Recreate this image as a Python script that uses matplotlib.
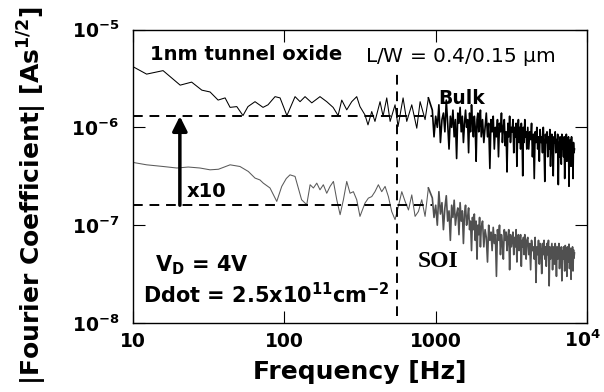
import numpy as np
import matplotlib.pyplot as plt
import matplotlib.transforms as mtransforms

plt.rcParams['font.family'] = 'DejaVu Sans'
plt.rcParams['mathtext.default'] = 'regular'

# Bulk device, low-frequency part: frequency [Hz], amplitude [x1e-6 As^1/2]
bulk_lf_freq = [10, 12.3, 15.8, 20.5, 24.4, 28.5, 32.3, 36.5, 40.6, 43.8,
                48.5, 53.3, 57.5, 64, 72.3, 78, 86.8, 93.7, 104, 117.7,
                127, 137, 151.8, 172, 190.6, 210, 226.6, 239.5, 258.4, 278.8,
                300.8, 316, 341, 357, 378, 397, 429, 449, 475, 500,
                539, 564, 609, 644, 695, 750, 789, 851, 895]
bulk_lf = [4.17, 3.5, 3.8, 2.7, 2.9, 2.4, 2.3, 1.9, 2.0, 1.6,
           1.63, 1.32, 1.63, 1.83, 1.6, 1.7, 2.06, 2.0, 1.32, 2.06,
           1.83, 2.06, 1.78, 2.06, 1.83, 1.6, 1.32, 1.9, 1.51, 1.83,
           2.06, 1.63, 1.34, 1.06, 1.45, 1.15, 1.83, 1.3, 2.0, 1.15,
           1.7, 1.02, 2.0, 1.15, 1.7, 0.98, 1.83, 1.2, 2.0]

# SOI device, low-frequency part: frequency [Hz], amplitude [x1e-7 As^1/2]
soi_lf_freq = [10, 12.3, 15.8, 19.5, 23.2, 27.7, 32.3, 36.7, 43.8,
               50.9, 57.8, 64, 69, 72.6, 80.4, 89.1, 96.1, 103, 109,
               117.7, 130, 140.6, 148, 155.6, 163.8, 172, 181, 190.6, 200.5,
               211, 222, 233.6, 245.6, 258.4, 271.8, 285.9, 300.8, 316, 341,
               359, 378, 397, 418, 440, 463, 487, 512, 539, 567,
               597, 628, 661, 695, 731, 769, 809, 851, 895]
soi_lf = [4.38, 4.14, 3.98, 3.84, 3.93, 3.84, 3.68, 3.73, 4.14,
          3.98, 3.54, 3.03, 2.9, 2.69, 2.4, 1.75, 2.49, 3.0, 3.27,
          3.15, 1.82, 1.62, 2.59, 2.4, 2.69, 2.3, 2.59, 2.12, 2.49,
          2.8, 1.82, 1.28, 1.82, 2.8, 2.12, 2.2, 1.82, 1.23, 1.68,
          1.89, 1.96, 2.2, 2.59, 2.2, 2.49, 1.96, 1.38, 1.14, 1.56,
          2.2, 1.75, 1.43, 2.04, 1.23, 1.38, 1.82, 1.23, 2.4]

# High-frequency part, shared frequency bins [Hz]
hf_freq = [950, 975, 1000, 1025, 1050, 1075, 1100, 1125, 1150, 1175,
           1200, 1225, 1250, 1275, 1300, 1325, 1350, 1375, 1400, 1425,
           1450, 1475, 1500, 1525, 1550, 1575, 1600, 1625, 1650, 1675,
           1700, 1725, 1750, 1775, 1800, 1825, 1850, 1875, 1900, 1925,
           1950, 1975, 2000,
           2040, 2080, 2120, 2160, 2200, 2240, 2280, 2320, 2360, 2400,
           2440, 2480, 2520, 2560, 2600, 2640, 2680, 2720, 2760, 2800,
           2840, 2880, 2920, 2960, 3000, 3040, 3080, 3120, 3160, 3200,
           3240, 3280, 3320, 3360, 3400, 3440, 3480, 3520, 3560, 3600,
           3640, 3680, 3720, 3760, 3800, 3840, 3880, 3920, 3960, 4000,
           4060, 4120, 4180, 4240, 4300, 4360, 4420, 4480, 4540, 4600,
           4660, 4720, 4780, 4840, 4900, 4960, 5020, 5080, 5140, 5200,
           5260, 5320, 5380, 5440, 5500, 5560, 5620, 5680, 5740, 5800,
           5860, 5920, 5980, 6040, 6100, 6160, 6220, 6280, 6340, 6400,
           6460, 6520, 6580, 6640, 6700, 6760, 6820, 6880, 6940, 7000,
           7060, 7120, 7180, 7240, 7300, 7360, 7420, 7480, 7540, 7600,
           7660, 7720, 7780, 7840, 7900, 7960, 8020, 8080, 8140, 8200,
           8260]
# Bulk [x1e-7 As^1/2]
bulk_hf = [15, 8, 13, 10, 17, 7, 12, 14, 9, 19,
           11, 6, 13, 10, 15, 8, 12, 4.8, 14, 11,
           16, 9, 13, 7, 11, 15, 10, 12, 5.5, 14,
           9, 17, 11, 8, 13, 10, 4.5, 12, 14, 9,
           11, 15, 8,
           12, 7, 10, 14, 8, 11, 3.8, 12, 9, 13,
           6, 10, 8, 12, 5, 11, 9, 14, 7, 10,
           12, 6.5, 9, 3.5, 11, 8, 13, 7, 10, 9,
           12, 5.5, 10, 8, 11, 4, 9, 12, 7, 10,
           6, 11, 8.5, 3.2, 10, 7, 12, 8, 9, 6,
           10, 6, 9, 7.5, 11, 5, 8.5, 3, 9, 7,
           10, 6, 8, 4.5, 9.5, 7, 8, 5.5, 10, 6.5,
           2.8, 8.5, 7, 9, 5, 8, 6, 9.5, 4, 7.5,
           8.5, 6, 3.2, 8, 7, 9, 5.5, 7.5, 6, 8.5,
           2.6, 7, 5, 8, 6.5, 4.2, 8.5, 6, 7.5, 5,
           8, 3, 7, 6, 8.5, 4.5, 7, 5.5, 8, 2.5,
           7, 6, 7.5, 4, 8, 5, 6.5, 3, 7, 5.5,
           6]
# SOI [x1e-8 As^1/2]
soi_hf = [19, 12, 16, 10, 22, 13, 17, 9, 15, 20,
          11, 14, 7, 16, 12, 18, 10, 13, 15, 8,
          17, 11, 14, 6.5, 13, 16, 10, 12, 15, 9,
          11, 5.5, 12, 9, 13, 7, 11, 4.5, 10, 8,
          12, 6, 9.5,
          11, 6, 9, 7.5, 4.2, 10, 7, 8.5, 5.5, 9.5,
          6.5, 8, 3, 9, 7, 10, 5, 8, 6.5, 4.5,
          9, 7, 8.5, 5.5, 7.5, 9, 3.5, 8, 6, 7,
          8.5, 5, 7.5, 6, 9, 4.2, 7, 8, 5.5, 6.5,
          8, 3.8, 7, 6, 7.5, 5, 8, 6.5, 4.5, 7,
          7.5, 5, 6.5, 3.5, 7, 5.5, 6, 4.5, 7.5, 2.6,
          6, 5, 7, 4, 6.5, 5.5, 3.2, 6.5, 5, 7,
          4.5, 6, 3.8, 6.5, 5, 7, 2.4, 6, 4.5, 5.5,
          6.5, 3.5, 6, 5, 4, 6.5, 5.5, 3, 6, 4.5,
          5.5, 6.5, 3.6, 5.5, 4.8, 6, 2.7, 5.5, 4.5, 6,
          5, 3.4, 6.2, 4.6, 5.5, 3, 6, 5, 4.2, 6.4,
          3.6, 5.2, 5.8, 2.8, 5.5, 4.4, 6, 3.4, 5.6, 4.6,
          5.2]

# Reference levels and corner frequency
bulk_level = 1.3e-6
soi_level = 1.6e-7
corner_freq = 556
arrow_freq = 20.4

freq_bulk = np.concatenate([bulk_lf_freq, hf_freq])
amp_bulk = np.concatenate([np.array(bulk_lf) * 1e-6, np.array(bulk_hf) * 1e-7])
freq_soi = np.concatenate([soi_lf_freq, hf_freq])
amp_soi = np.concatenate([np.array(soi_lf) * 1e-7, np.array(soi_hf) * 1e-8])
n_lf_bulk = len(bulk_lf_freq)
n_lf_soi = len(soi_lf_freq)

fig = plt.figure(figsize=(6.04, 3.92), dpi=100)
ax = fig.add_axes([0.2202, 0.176, 0.7517, 0.7487])

# thin trace for the sparse low-frequency part, heavier for the dense part
ax.loglog(freq_bulk[:n_lf_bulk], amp_bulk[:n_lf_bulk], color='black', lw=0.75)
ax.loglog(freq_bulk[n_lf_bulk - 1:], amp_bulk[n_lf_bulk - 1:], color='black', lw=1.2)
ax.loglog(freq_soi[:n_lf_soi], amp_soi[:n_lf_soi], color='#5a5a5a', lw=0.75)
ax.loglog(freq_soi[n_lf_soi - 1:], amp_soi[n_lf_soi - 1:], color='#505050', lw=1.2)

dash = (0, (5, 3.5))
ax.hlines([bulk_level, soi_level], 10, 950, colors='black', linestyles=dash, lw=1.4, zorder=3)
ax.vlines(corner_freq, 1.17e-8, 3.9e-6, colors='black', linestyles=dash, lw=1.4, zorder=3)
ax.annotate('', xy=(arrow_freq, bulk_level), xytext=(arrow_freq, soi_level),
            arrowprops=dict(arrowstyle='-|>', color='black', lw=2.5,
                            mutation_scale=22, shrinkA=0, shrinkB=0), zorder=4)

ax.set_xlim(10, 1e4)
ax.set_ylim(1e-8, 1e-5)
ax.set_xticks([10, 100, 1000, 10000])
ax.set_xticklabels(['10', '100', '1000', r'$10^4$'])
ax.set_yticks([1e-8, 1e-7, 1e-6, 1e-5])
ax.set_yticklabels([r'$10^{-8}$', r'$10^{-7}$', r'$10^{-6}$', r'$10^{-5}$'])
ax.minorticks_off()
ax.tick_params(direction='in', length=8.5, width=0.8, top=True, right=True,
               labelsize=13.5)
ax.tick_params(axis='x', pad=17)
ax.tick_params(axis='y', pad=10)
xlabels = ax.get_xticklabels()
for lbl in xlabels:
    lbl.set_fontweight('bold')
    lbl.set_va('baseline')
# keep the last label inside the canvas
xlabels[-1].set_transform(xlabels[-1].get_transform() +
                          mtransforms.ScaledTranslation(-3 / 72, 0, fig.dpi_scale_trans))
for lbl in ax.get_yticklabels():
    lbl.set_fontweight('bold')
for sp in ax.spines.values():
    sp.set_linewidth(1.0)

ax.set_xlabel('Frequency [Hz]', fontsize=18, fontweight='bold')
ax.xaxis.set_label_coords(0.5, -0.126)
ax.set_ylabel(r'|Fourier Coefficient| [As$^{1/2}$]', fontsize=18, fontweight='bold')
ax.yaxis.label.set_va('center')
ax.yaxis.set_label_coords(-0.222, 0.433)

ax.text(0.037, 0.896, '1nm tunnel oxide', transform=ax.transAxes,
        fontsize=14, fontweight='bold', va='baseline')
ax.text(0.51, 0.889, r'L/W = 0.4/0.15 $\mu$m', transform=ax.transAxes,
        fontsize=14.5, va='baseline')
ax.text(0.672, 0.746, 'Bulk', transform=ax.transAxes,
        fontsize=13.5, fontweight='bold', va='baseline')
ax.text(0.628, 0.191, 'SOI', transform=ax.transAxes, family='Liberation Serif',
        fontsize=17, fontweight='bold', va='baseline')
ax.text(0.119, 0.43, 'x10', transform=ax.transAxes,
        fontsize=14, fontweight='bold', va='baseline')
ax.text(0.0485, 0.175, r'V$_D$ = 4V', transform=ax.transAxes,
        fontsize=15, fontweight='bold', va='baseline')
ax.text(0.022, 0.068, r'Ddot = 2.5x10$^{11}$cm$^{-2}$', transform=ax.transAxes,
        fontsize=15, fontweight='bold', va='baseline')

fig.savefig('out.png', dpi=100)
